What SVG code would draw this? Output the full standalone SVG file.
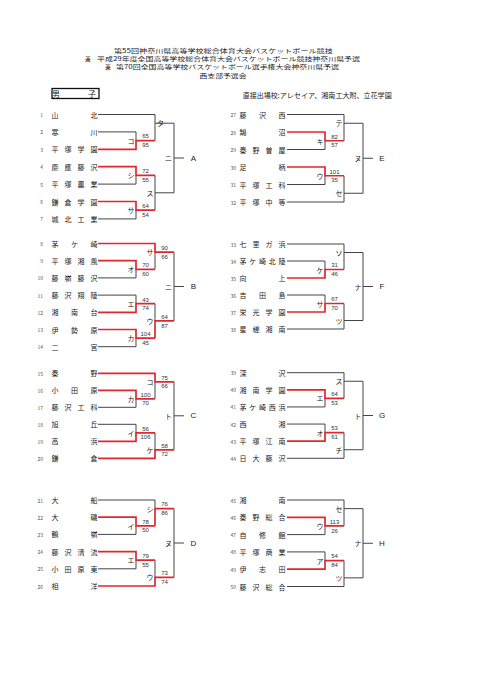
<svg xmlns="http://www.w3.org/2000/svg" width="481" height="680" viewBox="0 0 481 680">
<style>
text{font-family:"Noto Sans CJK JP","Noto Sans",sans-serif;fill:#222}
.h{font-size:5.7px;dominant-baseline:central}
.t{font-size:7px;text-anchor:middle;dominant-baseline:central}
.n{font-size:5px;fill:#555;text-anchor:end;dominant-baseline:central}
.lb{font-size:7px;text-anchor:middle;dominant-baseline:central}
.s{font-size:6px;text-anchor:middle;dominant-baseline:central;fill:#333;font-family:"Liberation Sans",sans-serif}
.g{font-size:8px;text-anchor:middle;dominant-baseline:central;font-family:"Liberation Sans",sans-serif}
.k{stroke:#444;stroke-width:1;fill:none}
.r{stroke:#e3262d;stroke-width:1.7;fill:none}
</style>
<rect width="481" height="680" fill="#fff"/>
<g id="title">
<text class="h" x="114" y="50" textLength="218.7" lengthAdjust="spacingAndGlyphs">第55回神奈川県高等学校総合体育大会バスケットボール競技</text>
<text class="h" x="85" y="58.4">兼</text>
<text class="h" x="97" y="58.4" textLength="263" lengthAdjust="spacingAndGlyphs">平成29年度全国高等学校総合体育大会バスケットボール競技神奈川県予選</text>
<text class="h" x="105" y="66.8">兼</text>
<text class="h" x="116" y="66.8" textLength="223" lengthAdjust="spacingAndGlyphs">第70回全国高等学校バスケットボール選手権大会神奈川県予選</text>
<text class="h" x="199.5" y="75.2" textLength="47" lengthAdjust="spacingAndGlyphs">西支部予選会</text>
</g>
<g id="category">
<rect x="52" y="88.5" width="47" height="10" fill="none" stroke="#111" stroke-width="1.3"/>
<text class="t" x="56 92" y="93.5" style="font-size:8px">男子</text>
</g>
<g id="seeded">
<text x="242.7" y="95" style="font-size:7px;dominant-baseline:central" textLength="149" lengthAdjust="spacingAndGlyphs">直接出場校:アレセイア、湘南工大附、立花学園</text>
</g>

<g id="connectors">
<!-- A -->
<path class="k" d="M98 114.5H155V140.6M155 123.2H174M98 131.9H136V140.6M98 184.1H136V175.4M98 218.9H136V210.2M155 175.4V210.2M155 192.8H174M174 123.2V192.8M174 158H184"/>
<path class="r" d="M98 149.3H136V140.6H155M98 166.7H136V175.4H155M98 201.5H136V210.2H155"/>
<!-- B -->
<path class="k" d="M155 252.1V269.3M98 277.9H136V269.3M98 295.1H136V303.7M98 346.7H136V338.1M155 303.7V320.9M174 252.1V320.9M174 286.5H184"/>
<path class="r" d="M98 243.5H155V252.1H174M98 260.7H136V269.3H155M98 312.3H136V303.7H155M98 329.5H136V338.1H155M155 338.1V320.9H174"/>
<!-- C -->
<path class="k" d="M98 407.3H136V398.8M155 381.8V398.8M98 424.3H136V432.8M155 432.8V449.8M174 381.8V449.8M174 415.8H184"/>
<path class="r" d="M98 390.3H136V398.8H155M98 373.3H155V381.8H174M98 441.3H136V432.8H155M98 458.3H155V449.8H174"/>
<!-- D -->
<path class="k" d="M98 534.4H136V525.8M98 500H155V508.6M98 568.8H136V560.2M155 560.2V577.4M174 508.6V577.4M174 543H184"/>
<path class="r" d="M98 517.2H136V525.8H155M155 525.8V508.6H174M98 551.6H136V560.2H155M98 586H155V577.4H174"/>
<!-- E -->
<path class="k" d="M287 149.5H325V140.75M287 114.5H344V140.75M344 123.25H363M287 184.5H325V175.75M287 202H344V175.75M344 193.25H363M363 123.25V193.25M363 158.25H373"/>
<path class="r" d="M287 132H325V140.75H344M287 167H325V175.75H344"/>
<!-- F -->
<path class="k" d="M287 261H325V269.5M287 244H344V269.5M344 252.5H363M287 295H325V303.5M287 329H344V303.5M344 320.5H363M363 252.5V320.5M363 286.5H373"/>
<path class="r" d="M287 278H325V269.5H344M287 312H325V303.5H344"/>
<!-- G -->
<path class="k" d="M287 406.94H325V398.38M287 372.7H344V398.38M344 381.26H363M287 424.06H325V432.62M287 458.3H344V432.62M344 449.74H363M363 381.26V449.74M363 415.5H373"/>
<path class="r" d="M287 389.82H325V398.38H344M287 441.18H325V432.62H344"/>
<!-- H -->
<path class="k" d="M287 534.6H325V525.95M287 500H344V525.95M344 508.65H363M287 551.9H325V560.55M287 586.5H344V560.55M344 577.85H363M363 508.65V577.85M363 543.25H373"/>
<path class="r" d="M287 517.3H325V525.95H344M287 569.2H325V560.55H344"/>
</g>

<!-- Teams left -->
<g id="team1"><text class="n" x="43" y="114.5">1</text><text class="t" x="55 94" y="114.5">山北</text></g>
<g id="team2"><text class="n" x="43" y="131.9">2</text><text class="t" x="55 94" y="131.9">寒川</text></g>
<g id="team3"><text class="n" x="43" y="149.3">3</text><text class="t" x="55 68 81 94" y="149.3">平塚学園</text></g>
<g id="team4"><text class="n" x="43" y="166.7">4</text><text class="t" x="55 68 81 94" y="166.7">慶應藤沢</text></g>
<g id="team5"><text class="n" x="43" y="184.1">5</text><text class="t" x="55 68 81 94" y="184.1">平塚農業</text></g>
<g id="team6"><text class="n" x="43" y="201.5">6</text><text class="t" x="55 68 81 94" y="201.5">鎌倉学園</text></g>
<g id="team7"><text class="n" x="43" y="218.9">7</text><text class="t" x="55 68 81 94" y="218.9">城北工業</text></g>
<g id="team8"><text class="n" x="43" y="243.5">8</text><text class="t" x="55 74.5 94" y="243.5">茅ケ崎</text></g>
<g id="team9"><text class="n" x="43" y="260.7">9</text><text class="t" x="55 68 81 94" y="260.7">平塚湘風</text></g>
<g id="team10"><text class="n" x="43" y="277.9">10</text><text class="t" x="55 68 81 94" y="277.9">藤嶺藤沢</text></g>
<g id="team11"><text class="n" x="43" y="295.1">11</text><text class="t" x="55 68 81 94" y="295.1">藤沢翔陵</text></g>
<g id="team12"><text class="n" x="43" y="312.3">12</text><text class="t" x="55 74.5 94" y="312.3">湘南台</text></g>
<g id="team13"><text class="n" x="43" y="329.5">13</text><text class="t" x="55 74.5 94" y="329.5">伊勢原</text></g>
<g id="team14"><text class="n" x="43" y="346.7">14</text><text class="t" x="55 94" y="346.7">二宮</text></g>
<g id="team15"><text class="n" x="43" y="373.3">15</text><text class="t" x="55 94" y="373.3">秦野</text></g>
<g id="team16"><text class="n" x="43" y="390.3">16</text><text class="t" x="55 74.5 94" y="390.3">小田原</text></g>
<g id="team17"><text class="n" x="43" y="407.3">17</text><text class="t" x="55 68 81 94" y="407.3">藤沢工科</text></g>
<g id="team18"><text class="n" x="43" y="424.3">18</text><text class="t" x="55 94" y="424.3">旭丘</text></g>
<g id="team19"><text class="n" x="43" y="441.3">19</text><text class="t" x="55 94" y="441.3">高浜</text></g>
<g id="team20"><text class="n" x="43" y="458.3">20</text><text class="t" x="55 94" y="458.3">鎌倉</text></g>
<g id="team21"><text class="n" x="43" y="500">21</text><text class="t" x="55 94" y="500">大船</text></g>
<g id="team22"><text class="n" x="43" y="517.2">22</text><text class="t" x="55 94" y="517.2">大磯</text></g>
<g id="team23"><text class="n" x="43" y="534.4">23</text><text class="t" x="55 94" y="534.4">鶴嶺</text></g>
<g id="team24"><text class="n" x="43" y="551.6">24</text><text class="t" x="55 68 81 94" y="551.6">藤沢清流</text></g>
<g id="team25"><text class="n" x="43" y="568.8">25</text><text class="t" x="55 68 81 94" y="568.8">小田原東</text></g>
<g id="team26"><text class="n" x="43" y="586">26</text><text class="t" x="55 94" y="586">相洋</text></g>

<!-- Teams right -->
<g id="team27"><text class="n" x="236" y="114.5">27</text><text class="t" x="243 262.5 282" y="114.5">藤沢西</text></g>
<g id="team28"><text class="n" x="236" y="132">28</text><text class="t" x="243 282" y="132">鵠沼</text></g>
<g id="team29"><text class="n" x="236" y="149.5">29</text><text class="t" x="243 256 269 282" y="149.5">秦野曽屋</text></g>
<g id="team30"><text class="n" x="236" y="167">30</text><text class="t" x="243 282" y="167">足柄</text></g>
<g id="team31"><text class="n" x="236" y="184.5">31</text><text class="t" x="243 256 269 282" y="184.5">平塚工科</text></g>
<g id="team32"><text class="n" x="236" y="202">32</text><text class="t" x="243 256 269 282" y="202">平塚中等</text></g>
<g id="team33"><text class="n" x="236" y="244">33</text><text class="t" x="243 256 269 282" y="244">七里ガ浜</text></g>
<g id="team34"><text class="n" x="236" y="261">34</text><text class="t" x="243 252.75 262.5 272.25 282" y="261">茅ケ崎北陵</text></g>
<g id="team35"><text class="n" x="236" y="278">35</text><text class="t" x="243 282" y="278">向上</text></g>
<g id="team36"><text class="n" x="236" y="295">36</text><text class="t" x="243 262.5 282" y="295">吉田島</text></g>
<g id="team37"><text class="n" x="236" y="312">37</text><text class="t" x="243 256 269 282" y="312">栄光学園</text></g>
<g id="team38"><text class="n" x="236" y="329">38</text><text class="t" x="243 256 269 282" y="329">星槎湘南</text></g>
<g id="team39"><text class="n" x="236" y="372.7">39</text><text class="t" x="243 282" y="372.7">深沢</text></g>
<g id="team40"><text class="n" x="236" y="389.82">40</text><text class="t" x="243 256 269 282" y="389.82">湘南学園</text></g>
<g id="team41"><text class="n" x="236" y="406.94">41</text><text class="t" x="243 252.75 262.5 272.25 282" y="406.94">茅ケ崎西浜</text></g>
<g id="team42"><text class="n" x="236" y="424.06">42</text><text class="t" x="243 282" y="424.06">西湘</text></g>
<g id="team43"><text class="n" x="236" y="441.18">43</text><text class="t" x="243 256 269 282" y="441.18">平塚江南</text></g>
<g id="team44"><text class="n" x="236" y="458.3">44</text><text class="t" x="243 256 269 282" y="458.3">日大藤沢</text></g>
<g id="team45"><text class="n" x="236" y="500">45</text><text class="t" x="243 282" y="500">湘南</text></g>
<g id="team46"><text class="n" x="236" y="517.3">46</text><text class="t" x="243 256 269 282" y="517.3">秦野総合</text></g>
<g id="team47"><text class="n" x="236" y="534.6">47</text><text class="t" x="243 262.5 282" y="534.6">自修館</text></g>
<g id="team48"><text class="n" x="236" y="551.9">48</text><text class="t" x="243 256 269 282" y="551.9">平塚商業</text></g>
<g id="team49"><text class="n" x="236" y="569.2">49</text><text class="t" x="243 262.5 282" y="569.2">伊志田</text></g>
<g id="team50"><text class="n" x="236" y="586.5">50</text><text class="t" x="243 256 269 282" y="586.5">藤沢総合</text></g>

<!-- Matches A -->
<g id="mA-ko"><text class="lb" x="131" y="140.6">コ</text><text class="s" x="145.5" y="136.4">65</text><text class="s" x="145.5" y="145.2">95</text></g>
<g id="mA-ta"><text class="lb" x="160.5" y="122.5">タ</text></g>
<g id="mA-shi"><text class="lb" x="131" y="175.4">シ</text><text class="s" x="145.5" y="171.2">72</text><text class="s" x="145.5" y="180">55</text></g>
<g id="mA-sa"><text class="lb" x="131" y="210.2">サ</text><text class="s" x="145.5" y="206">64</text><text class="s" x="145.5" y="214.8">54</text></g>
<g id="mA-su"><text class="lb" x="150" y="192.8">ス</text></g>
<g id="mA-ni"><text class="lb" x="168.5" y="158">ニ</text></g>
<g id="groupA"><text class="g" x="193.5" y="158">A</text></g>
<!-- Matches B -->
<g id="mB-o"><text class="lb" x="131" y="269.3">オ</text><text class="s" x="145.5" y="265.1">70</text><text class="s" x="145.5" y="273.9">60</text></g>
<g id="mB-sa"><text class="lb" x="150" y="252.1">サ</text><text class="s" x="164.5" y="247.9">90</text><text class="s" x="164.5" y="256.7">66</text></g>
<g id="mB-e"><text class="lb" x="131" y="303.7">エ</text><text class="s" x="145.5" y="299.5">43</text><text class="s" x="145.5" y="308.3">74</text></g>
<g id="mB-ka"><text class="lb" x="131" y="338.1">カ</text><text class="s" x="145.5" y="333.9">104</text><text class="s" x="145.5" y="342.7">45</text></g>
<g id="mB-u"><text class="lb" x="150" y="320.9">ウ</text><text class="s" x="164.5" y="316.7">64</text><text class="s" x="164.5" y="325.5">87</text></g>
<g id="mB-ni"><text class="lb" x="168.5" y="286.5">ニ</text></g>
<g id="groupB"><text class="g" x="193.5" y="286.5">B</text></g>
<!-- Matches C -->
<g id="mC-ka"><text class="lb" x="131" y="398.8">カ</text><text class="s" x="145.5" y="394.6">100</text><text class="s" x="145.5" y="403.4">70</text></g>
<g id="mC-ko"><text class="lb" x="150" y="381.8">コ</text><text class="s" x="164.5" y="377.6">75</text><text class="s" x="164.5" y="386.4">66</text></g>
<g id="mC-i"><text class="lb" x="131" y="432.8">イ</text><text class="s" x="145.5" y="428.6">56</text><text class="s" x="145.5" y="437.4">106</text></g>
<g id="mC-ke"><text class="lb" x="150" y="449.8">ケ</text><text class="s" x="164.5" y="445.6">58</text><text class="s" x="164.5" y="454.4">72</text></g>
<g id="mC-to"><text class="lb" x="168.5" y="415.8">ト</text></g>
<g id="groupC"><text class="g" x="193.5" y="415.8">C</text></g>
<!-- Matches D -->
<g id="mD-i"><text class="lb" x="131" y="525.8">イ</text><text class="s" x="145.5" y="521.6">78</text><text class="s" x="145.5" y="530.4">50</text></g>
<g id="mD-shi"><text class="lb" x="150" y="508.6">シ</text><text class="s" x="164.5" y="504.4">76</text><text class="s" x="164.5" y="513.2">86</text></g>
<g id="mD-e"><text class="lb" x="131" y="560.2">エ</text><text class="s" x="145.5" y="556">79</text><text class="s" x="145.5" y="564.8">55</text></g>
<g id="mD-u"><text class="lb" x="150" y="577.4">ウ</text><text class="s" x="164.5" y="573.2">73</text><text class="s" x="164.5" y="582">74</text></g>
<g id="mD-nu"><text class="lb" x="168.5" y="543">ヌ</text></g>
<g id="groupD"><text class="g" x="193.5" y="543">D</text></g>
<!-- Matches E -->
<g id="mE-ki"><text class="lb" x="320" y="140.75">キ</text><text class="s" x="334.5" y="136.5">82</text><text class="s" x="334.5" y="145.3">57</text></g>
<g id="mE-te"><text class="lb" x="339" y="123.25">テ</text></g>
<g id="mE-u"><text class="lb" x="320" y="175.75">ウ</text><text class="s" x="334.5" y="171.5">101</text><text class="s" x="334.5" y="180.3">35</text></g>
<g id="mE-se"><text class="lb" x="339" y="193.25">セ</text></g>
<g id="mE-nu"><text class="lb" x="358" y="158.25">ヌ</text></g>
<g id="groupE"><text class="g" x="382" y="158.25">E</text></g>
<!-- Matches F -->
<g id="mF-ke"><text class="lb" x="320" y="269.5">ケ</text><text class="s" x="334.5" y="265.3">31</text><text class="s" x="334.5" y="274.1">46</text></g>
<g id="mF-so"><text class="lb" x="339" y="252.5">ソ</text></g>
<g id="mF-sa"><text class="lb" x="320" y="303.5">サ</text><text class="s" x="334.5" y="299.3">67</text><text class="s" x="334.5" y="308.1">70</text></g>
<g id="mF-tsu"><text class="lb" x="339" y="320.5">ツ</text></g>
<g id="mF-na"><text class="lb" x="358" y="286.5">ナ</text></g>
<g id="groupF"><text class="g" x="382" y="286.5">F</text></g>
<!-- Matches G -->
<g id="mG-e"><text class="lb" x="320" y="398.38">エ</text><text class="s" x="334.5" y="394.2">64</text><text class="s" x="334.5" y="403">53</text></g>
<g id="mG-su"><text class="lb" x="339" y="381.26">ス</text></g>
<g id="mG-o"><text class="lb" x="320" y="432.62">オ</text><text class="s" x="334.5" y="428.4">53</text><text class="s" x="334.5" y="437.2">61</text></g>
<g id="mG-chi"><text class="lb" x="339" y="449.74">チ</text></g>
<g id="mG-to"><text class="lb" x="358" y="415.5">ト</text></g>
<g id="groupG"><text class="g" x="382" y="415.5">G</text></g>
<!-- Matches H -->
<g id="mH-u"><text class="lb" x="320" y="525.95">ウ</text><text class="s" x="334.5" y="521.7">113</text><text class="s" x="334.5" y="530.5">26</text></g>
<g id="mH-se"><text class="lb" x="339" y="508.65">セ</text></g>
<g id="mH-a"><text class="lb" x="320" y="560.55">ア</text><text class="s" x="334.5" y="556.3">54</text><text class="s" x="334.5" y="565.1">84</text></g>
<g id="mH-tsu"><text class="lb" x="339" y="577.85">ツ</text></g>
<g id="mH-na"><text class="lb" x="358" y="543.25">ナ</text></g>
<g id="groupH"><text class="g" x="382" y="543.25">H</text></g>
</svg>
